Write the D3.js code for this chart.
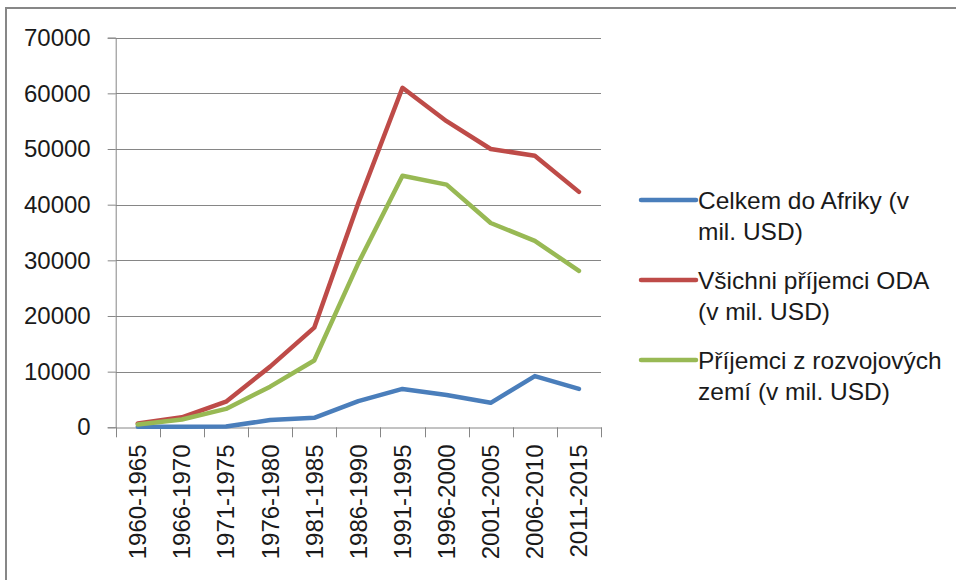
<!DOCTYPE html>
<html><head><meta charset="utf-8">
<script src="https://cdn.jsdelivr.net/npm/d3@7/dist/d3.min.js"></script>
<style>body{margin:0;background:#fff}svg{display:block}</style>
</head><body>
<svg id="c" width="956" height="580"></svg>
<script>
const categories = ["1960-1965","1966-1970","1971-1975","1976-1980","1981-1985","1986-1990","1991-1995","1996-2000","2001-2005","2006-2010","2011-2015"];
const africa = [100, 100, 150, 1300, 1700, 4700, 6900, 5800, 4400, 9200, 6900];
const allOda = [700, 1800, 4600, 10900, 17900, 40300, 61000, 55000, 50000, 48800, 42300];
const developing = [500, 1400, 3300, 7300, 12000, 29500, 45200, 43600, 36700, 33500, 28100];
const yTicks = [0, 10000, 20000, 30000, 40000, 50000, 60000, 70000];
const seriesNames = [["Celkem do Afriky (v", "mil. USD)"], ["Všichni příjemci ODA", "(v mil. USD)"], ["Příjemci z rozvojových", "zemí (v mil. USD)"]];
const colors = ["#4A7EBB", "#BE4B48", "#98B954"];
const seriesData = [africa, allOda, developing];

const svg = d3.select("#c");
const font = "'Liberation Sans', Arial, sans-serif";
// frame
svg.append("line").attr("x1",6).attr("x2",956).attr("y1",8).attr("y2",8).attr("stroke","#878787").attr("stroke-width",2);
svg.append("line").attr("x1",6).attr("x2",6).attr("y1",7).attr("y2",580).attr("stroke","#878787").attr("stroke-width",2);

const L = 115.7, R = 601, T = 37.7, B = 427.3;
const x = d3.scaleBand().domain(categories).range([L, R]);
const y = d3.scaleLinear().domain([0, 70000]).range([B, T]);
const grid = "#868686";

// gridlines + y ticks
const yAxis = d3.axisLeft(y).tickValues(yTicks).tickSize(8).tickFormat(d3.format("d"));
const gy = svg.append("g").attr("transform", `translate(${L},0)`).call(yAxis);
gy.select(".domain").attr("stroke", grid);
gy.selectAll(".tick line").attr("stroke", grid);
gy.selectAll(".tick text").attr("x", -25).attr("font-family", font).attr("font-size", 24).attr("fill", "#1a1a1a");
svg.append("g").selectAll("line").data(yTicks.filter(d=>d>0)).join("line")
  .attr("x1", L).attr("x2", R).attr("y1", d=>Math.round(y(d))+0.5).attr("y2", d=>Math.round(y(d))+0.5)
  .attr("stroke", grid).attr("stroke-width", 1);

// x axis
const xAxis = d3.axisBottom(x).tickSize(0).tickSizeOuter(0);
const gx = svg.append("g").attr("transform", `translate(0,${Math.round(B)+0.5})`).call(xAxis);
gx.select(".domain").attr("stroke", grid);
gx.selectAll(".tick text").attr("font-family", font).attr("font-size", 24).attr("fill", "#1a1a1a")
  .attr("transform", "rotate(-90)").attr("text-anchor", "end").attr("x", -17).attr("y", 0).attr("dy", "0.35em");
// category boundary ticks
const bounds = categories.map(c => x(c)).concat([R]);
svg.append("g").selectAll("line").data(bounds).join("line")
  .attr("x1", d=>Math.round(d)+0.5).attr("x2", d=>Math.round(d)+0.5).attr("y1", B).attr("y2", B+10)
  .attr("stroke", grid);

// lines
const line = d3.line().x((d,i)=>x(categories[i]) + x.bandwidth()/2).y(d=>y(d));
seriesData.forEach((s, i) => {
  svg.append("path").datum(s).attr("d", line).attr("fill","none").attr("stroke", colors[i])
    .attr("stroke-width", 4.5).attr("stroke-linejoin","round").attr("stroke-linecap","round");
});

// legend
const leg = svg.append("g");
seriesNames.forEach((n, i) => {
  const cy = 200 + i*80;
  leg.append("line").attr("x1", 641).attr("x2", 696).attr("y1", cy).attr("y2", cy)
    .attr("stroke", colors[i]).attr("stroke-width", 4.5).attr("stroke-linecap","round");
  const t = leg.append("text").attr("font-family", font).attr("font-size", 24.5).attr("fill", "#1a1a1a");
  n.forEach((ln, j) => {
    t.append("tspan").attr("x", 698).attr("y", cy + 9 + j*31).text(ln);
  });
});
</script>
</body></html>
